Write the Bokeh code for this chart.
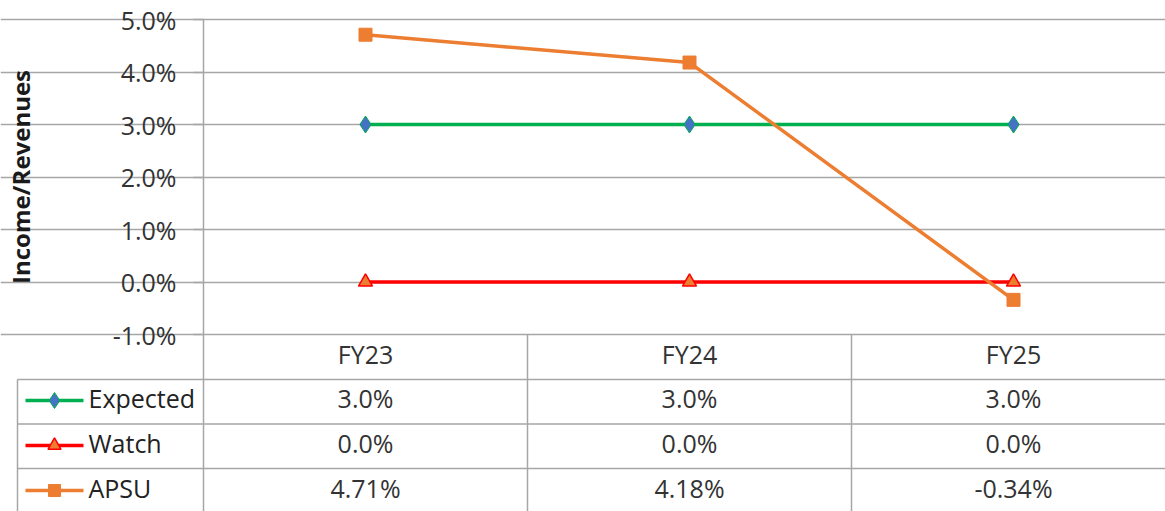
from bokeh.plotting import figure
from bokeh.models import Range1d, FixedTicker, PrintfTickFormatter
from bokeh.embed import file_html
from bokeh.resources import INLINE
from bokeh.core.properties import value

# ---------------- data ----------------
categories = ["FY23", "FY24", "FY25"]
series_names = ["Expected", "Watch", "APSU"]
expected = [3.0, 3.0, 3.0]
watch = [0.0, 0.0, 0.0]
apsu = [4.71, 4.18, -0.34]
table_decimals = [1, 1, 2]
y_ticks = [-1, 0, 1, 2, 3, 4, 5]
y_title = "Income/Revenues"

# ---------------- styles ----------------
FONT = "Open Sans"
TEXT = "#333333"
GRID = "#a6a6a6"
styles = [
    dict(line="#00B050", marker="diamond", fill="#4472C4", outline="#00B050", size=17, ow=1),
    dict(line="#FF0000", marker="triangle", fill="#ED7D31", outline="#FF0000", size=14, ow=1.5),
    dict(line="#ED7D31", marker="square", fill="#ED7D31", outline="#ED7D31", size=13, ow=1),
]
values = [expected, watch, apsu]

W = 1165
H = 511
TOP_PX = 19            # y of the top tick
PX_PER_PCT = 52.5
PX_PER_CAT = 324.0
AXIS_PX = 203          # x of the value axis
ZERO_ROW_PX = 334      # y of the lowest tick (table header top)
TEXT_LIFT = 3          # optical correction for middle-baseline text

y_end = max(y_ticks) + TOP_PX / PX_PER_PCT
y_start = y_end - H / PX_PER_PCT
x_start = -AXIS_PX / PX_PER_CAT
x_end = x_start + W / PX_PER_CAT
xs = [i + 0.5 for i in range(len(categories))]

def X(pix):
    return (pix - AXIS_PX) / PX_PER_CAT

def Y(pix):
    return min(y_ticks) - (pix - ZERO_ROW_PX) / PX_PER_PCT

p = figure(width=W, height=H, x_range=Range1d(x_start, x_end), y_range=Range1d(y_start, y_end),
           output_backend="svg", toolbar_location=None, x_axis_location=None,
           min_border_left=0, min_border_top=0, min_border_bottom=0, min_border_right=0)
p.outline_line_color = None
p.xgrid.visible = False
p.ygrid.ticker = FixedTicker(ticks=y_ticks)
p.ygrid.grid_line_color = GRID
p.ygrid.grid_line_width = 1.5
p.ygrid.bounds = (0, x_end)

ax = p.yaxis[0]
ax.fixed_location = 0
ax.bounds = (min(y_ticks), max(y_ticks))
ax.ticker = FixedTicker(ticks=y_ticks)
ax.formatter = PrintfTickFormatter(format="%.1f%%")
ax.major_label_text_font = FONT
ax.major_label_text_font_size = "25px"
ax.major_label_text_color = TEXT
ax.major_label_standoff = 17
ax.axis_line_color = GRID
ax.axis_line_width = 1.5
ax.major_tick_line_color = GRID
ax.major_tick_line_width = 1.5
ax.major_tick_out = 10
ax.major_tick_in = 0
ax.minor_tick_line_color = None
ax.axis_label = y_title
ax.axis_label_text_font = FONT
ax.axis_label_text_font_style = "bold"
ax.axis_label_text_font_size = "24px"
ax.axis_label_text_color = "#1a1a1a"
ax.axis_label_standoff = 73

# ---------------- data table ----------------
# header row: category labels
p.text(x=xs, y=[Y(356 - TEXT_LIFT)] * len(xs), text=categories, text_align="center",
       text_baseline="middle", text_font=value(FONT), text_font_size="25px", text_color=TEXT)
cols = list(range(0, len(categories)))
p.segment(x0=cols, y0=[min(y_ticks)] * len(cols), x1=cols, y1=[y_start] * len(cols),
          line_color=GRID, line_width=1.5)

row_lines = [Y(379), Y(423.5), Y(468)]
row_px = [400, 445, 490]
n = len(series_names)
p.segment(x0=[X(17)] * n, y0=row_lines, x1=[x_end] * n, y1=row_lines, line_color=GRID, line_width=1.5)
p.segment(x0=[X(17)], y0=[row_lines[0]], x1=[X(17)], y1=[y_start], line_color=GRID, line_width=1.5)

for i, (name, vals, st, dec) in enumerate(zip(series_names, values, styles, table_decimals)):
    yc = Y(row_px[i])
    yt = Y(row_px[i] - TEXT_LIFT)
    p.line([X(25), X(83)], [yc, yc], line_color=st["line"], line_width=3.5)
    p.scatter([X(54)], [yc], marker=st["marker"], size=st["size"] - 1, fill_color=st["fill"],
              line_color=st["outline"], line_width=st["ow"])
    p.text(x=[X(88)], y=[yt], text=[name], text_align="left", text_baseline="middle",
           text_font=value(FONT), text_font_size="25px", text_color="#222222")
    labels = [("{:.%df}%%" % dec).format(v) for v in vals]
    p.text(x=xs, y=[yt] * len(xs), text=labels, text_align="center", text_baseline="middle",
           text_font=value(FONT), text_font_size="25px", text_color=TEXT)

# ---------------- series ----------------
for name, vals, st in zip(series_names, values, styles):
    p.line(xs, vals, line_color=st["line"], line_width=3.5, line_join="round")
    p.scatter(xs, vals, marker=st["marker"], size=st["size"], fill_color=st["fill"],
              line_color=st["outline"], line_width=st["ow"])

open("out.html", "w").write(file_html(p, INLINE))
